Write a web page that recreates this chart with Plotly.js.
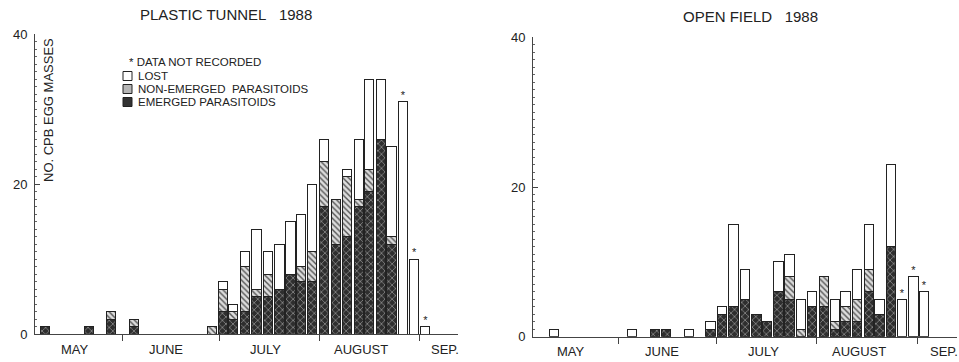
<!DOCTYPE html>
<html>
<head>
<meta charset="utf-8">
<script src="https://cdn.plot.ly/plotly-3.0.1.min.js"></script>
<style>html,body{margin:0;padding:0;background:#fff;}#chart{width:959px;height:362px;}</style>
</head>
<body>
<div id="chart"></div>
<script>
// x values: days since 1 May 1988 (1 May = 0, 1 Jun = 31, 1 Jul = 61, 1 Aug = 92, 1 Sep = 123)
const monthBoundaries = [31, 61, 92, 123];
const monthNames = ['MAY', 'JUNE', 'JULY', 'AUGUST', 'SEP.'];
const monthLabelDays = [16.5, 44.5, 75.5, 105, 131];

// PLASTIC TUNNEL 1988
const tunnelDays = [7.1, 20.7, 27.5, 34.7, 58.8, 62.3, 65.4, 69.1, 72.6, 76.2, 79.7, 83.1, 86.5, 89.9, 93.5, 97.2, 100.7, 104.3, 107.5, 111.1, 114.4, 117.9, 121.4, 124.9];
const tunnelEmerged = [1, 1, 2, 1, 0, 3, 2, 3, 5, 5, 6, 8, 7, 7, 17, 12, 13, 17, 19, 26, 12, 0, 0, 0];
const tunnelNonEmerged = [0, 0, 1, 1, 1, 3, 1, 6, 1, 3, 0, 0, 2, 4, 6, 6, 8, 1, 3, 0, 1, 0, 0, 0];
const tunnelLost = [0, 0, 0, 0, 0, 1, 1, 2, 8, 3, 6, 7, 7, 9, 3, 0, 1, 8, 12, 8, 12, 31, 10, 1];
const tunnelNotRecorded = [0, 0, 0, 0, 0, 0, 0, 0, 0, 0, 0, 0, 0, 0, 0, 0, 0, 0, 0, 0, 0, 1, 1, 1];

// OPEN FIELD 1988
const fieldDays = [11.3, 35.3, 42.3, 45.7, 52.6, 59.3, 62.8, 66.4, 69.9, 73.4, 76.7, 80.2, 83.6, 87.0, 90.5, 94.1, 97.5, 100.8, 104.3, 107.9, 111.2, 114.8, 118.1, 121.6, 124.8];
const fieldEmerged = [0, 0, 1, 1, 0, 1, 3, 4, 5, 3, 2, 6, 5, 0, 4, 4, 1, 2, 2, 6, 3, 12, 0, 0, 0];
const fieldNonEmerged = [0, 0, 0, 0, 0, 0, 0, 0, 0, 0, 0, 0, 3, 1, 0, 4, 1, 2, 3, 3, 0, 0, 0, 0, 0];
const fieldLost = [1, 1, 0, 0, 1, 1, 1, 11, 4, 0, 0, 4, 3, 4, 2, 0, 3, 2, 4, 6, 2, 11, 5, 8, 6];
const fieldNotRecorded = [0, 0, 0, 0, 0, 0, 0, 0, 0, 0, 0, 0, 0, 0, 0, 0, 0, 0, 0, 0, 0, 0, 1, 1, 1];

const seriesNames = ['EMERGED PARASITOIDS', 'NON-EMERGED PARASITOIDS', 'LOST'];

const FONT = 'Liberation Sans, Arial, Helvetica, sans-serif';
const INK = '#222';
const BAR_W = 2.85;
const outline = {color: INK, width: 1};
const styles = [
  {color: '#2e2e2e', line: outline, pattern: {shape: 'x', fgcolor: '#9a9a9a', bgcolor: '#2e2e2e', size: 5, solidity: 0.25}},
  {color: '#dcdcdc', line: outline, pattern: {shape: '\\', fgcolor: '#555', bgcolor: '#dcdcdc', size: 4, solidity: 0.35}},
  {color: '#ffffff', line: outline}
];

function panelTraces(days, em, ne, lost, nr, xa, ya) {
  const series = [em, ne, lost];
  const traces = series.map((vals, i) => ({
    type: 'bar', x: days, y: vals, width: BAR_W, name: seriesNames[i],
    marker: styles[i], xaxis: xa, yaxis: ya, showlegend: false, hoverinfo: 'skip'
  }));
  const sx = [], sy = [];
  days.forEach((d, i) => { if (nr[i]) { sx.push(d); sy.push(em[i] + ne[i] + lost[i]); } });
  traces.push({
    type: 'scatter', mode: 'text', x: sx, y: sy, text: sx.map(() => '*'),
    textposition: 'top center', textfont: {family: FONT, size: 11, color: INK},
    xaxis: xa, yaxis: ya, showlegend: false, hoverinfo: 'skip', cliponaxis: false
  });
  return traces;
}

const data = [].concat(
  panelTraces(tunnelDays, tunnelEmerged, tunnelNonEmerged, tunnelLost, tunnelNotRecorded, 'x', 'y'),
  panelTraces(fieldDays, fieldEmerged, fieldNonEmerged, fieldLost, fieldNotRecorded, 'x2', 'y2')
);

function xAxis(domain, range, anchor) {
  return {
    domain: domain, range: range, anchor: anchor,
    showline: true, linecolor: '#444', linewidth: 1, zeroline: false, showgrid: false,
    tickmode: 'array', tickvals: monthBoundaries, ticks: 'outside', ticklen: 6, tickcolor: '#444',
    showticklabels: false, fixedrange: true
  };
}
function yAxis(domain, anchor) {
  return {
    domain: domain, range: [0, 40], anchor: anchor,
    showline: true, linecolor: '#444', linewidth: 1, zeroline: false, showgrid: false,
    tickmode: 'array', tickvals: [0, 20, 40], ticks: 'inside', ticklen: 5, tickcolor: '#444',
    minor: {dtick: 1, ticks: 'inside', ticklen: 2, tickcolor: '#666', showgrid: false},
    tickfont: {family: FONT, size: 13, color: INK}, ticklabelstandoff: 4, fixedrange: true
  };
}

const annotations = [];
const base = {showarrow: false, borderpad: 0, font: {family: FONT, size: 13, color: INK}};
// titles
annotations.push(Object.assign({}, base, {text: 'PLASTIC TUNNEL\u00A0\u00A0\u00A01988', xref: 'paper', yref: 'paper', x: 226 / 959, y: 1 - 14.5 / 362, xanchor: 'center', yanchor: 'middle', font: {family: FONT, size: 15, color: INK}}));
annotations.push(Object.assign({}, base, {text: 'OPEN FIELD\u00A0\u00A0\u00A01988', xref: 'paper', yref: 'paper', x: 750 / 959, y: 1 - 16.5 / 362, xanchor: 'center', yanchor: 'middle', font: {family: FONT, size: 15, color: INK}}));
// month labels
[['x', 349], ['x2', 351]].forEach(([xa, py]) => {
  monthNames.forEach((m, i) => {
    annotations.push(Object.assign({}, base, {text: m, xref: xa, yref: 'paper', x: monthLabelDays[i], y: 1 - py / 362, xanchor: 'center', yanchor: 'middle', font: {family: FONT, size: 13, color: INK}}));
  });
});
// y-axis title
annotations.push(Object.assign({}, base, {text: 'NO. CPB EGG MASSES', textangle: -90, xref: 'paper', yref: 'paper', x: 48 / 959, y: 1 - 37 / 362, xanchor: 'center', yanchor: 'top', font: {family: FONT, size: 13, color: INK}}));
// legend
const legendRows = [
  {text: '*\u00A0DATA NOT RECORDED', y: 62, swatch: null},
  {text: 'LOST', y: 76, swatch: 2},
  {text: 'NON-EMERGED\u00A0\u00A0PARASITOIDS', y: 89, swatch: 1},
  {text: 'EMERGED PARASITOIDS', y: 102, swatch: 0}
];
const shapes = [];
legendRows.forEach((r, i) => {
  const xText = i === 0 ? 128 : 137;
  annotations.push(Object.assign({}, base, {text: r.text, xref: 'paper', yref: 'paper', x: xText / 959, y: 1 - r.y / 362, xanchor: 'left', yanchor: 'middle', font: {family: FONT, size: 11.5, color: INK}}));
  if (r.swatch !== null) {
    const fills = ['#333', '#b5b5b5', '#fff'];
    shapes.push({type: 'rect', xref: 'paper', yref: 'paper', x0: 123 / 959, x1: 132 / 959, y0: 1 - (r.y + 4.5) / 362, y1: 1 - (r.y - 4.5) / 362, fillcolor: fills[r.swatch], line: {color: INK, width: 1}});
  }
});

const layout = {
  width: 959, height: 362,
  margin: {l: 0, r: 0, t: 0, b: 0},
  paper_bgcolor: '#fff', plot_bgcolor: '#fff',
  barmode: 'stack', bargap: 0,
  showlegend: false,
  font: {family: FONT, color: INK},
  xaxis: xAxis([35 / 959, 458 / 959], [4, 135], 'y'),
  yaxis: yAxis([28 / 362, 328 / 362], 'x'),
  xaxis2: xAxis([533 / 959, 957 / 959], [4.8, 135], 'y2'),
  yaxis2: yAxis([25.3 / 362, 324.7 / 362], 'x2'),
  annotations: annotations,
  shapes: shapes
};

Plotly.newPlot('chart', data, layout, {displayModeBar: false, staticPlot: true});
</script>
</body>
</html>
